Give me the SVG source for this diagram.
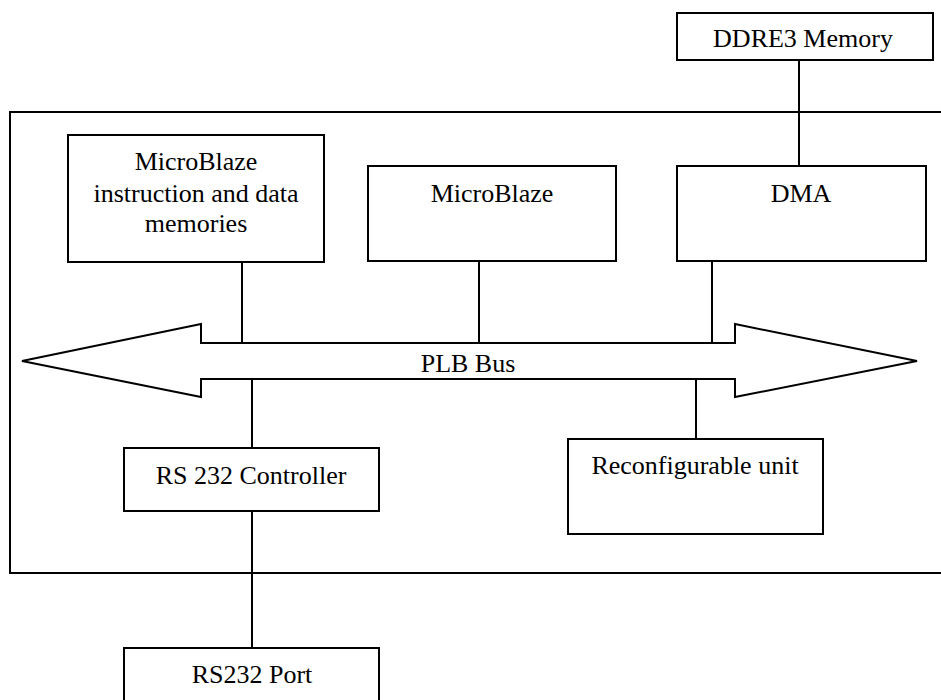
<svg xmlns="http://www.w3.org/2000/svg" width="941" height="700" viewBox="0 0 941 700">
  <style>
    .box { fill: #ffffff; stroke: #000000; stroke-width: 2; }
    .frame { fill: none; stroke: #000000; stroke-width: 2; }
    .wire { stroke: #000000; stroke-width: 2; fill: none; }
    .lbl { font-family: "Liberation Serif", "Times New Roman", serif; font-size: 26px; fill: #000000; text-anchor: middle; }
  </style>
  <rect width="941" height="700" fill="#ffffff"/>
  <g id="system-frame">
    <rect class="frame" x="10" y="112" width="945" height="461"/>
  </g>
  <g id="connectors">
    <line class="wire" x1="799" y1="60" x2="799" y2="166"/>
    <line class="wire" x1="242" y1="262" x2="242" y2="343"/>
    <line class="wire" x1="479" y1="261" x2="479" y2="343"/>
    <line class="wire" x1="712" y1="261" x2="712" y2="343"/>
    <line class="wire" x1="252" y1="379" x2="252" y2="448"/>
    <line class="wire" x1="696" y1="379" x2="696" y2="439"/>
    <line class="wire" x1="252" y1="511" x2="252" y2="648"/>
  </g>
  <g id="plb-bus">
    <polygon class="box" points="22,361 201,324 201,343 735,343 735,324 917,361 735,397 735,379 201,379 201,397"/>
    <text class="lbl" x="468" y="372">PLB Bus</text>
  </g>
  <g id="ddre3-memory">
    <rect class="box" x="677" y="13" width="256" height="47"/>
    <text class="lbl" x="803" y="47">DDRE3 Memory</text>
  </g>
  <g id="mb-memories">
    <rect class="box" x="68" y="135" width="256" height="127"/>
    <text class="lbl" x="196" y="170">MicroBlaze</text>
    <text class="lbl" x="196" y="202">instruction and data</text>
    <text class="lbl" x="196" y="232">memories</text>
  </g>
  <g id="microblaze">
    <rect class="box" x="368" y="166" width="248" height="95"/>
    <text class="lbl" x="492" y="202">MicroBlaze</text>
  </g>
  <g id="dma">
    <rect class="box" x="677" y="166" width="249" height="95"/>
    <text class="lbl" x="801" y="202">DMA</text>
  </g>
  <g id="rs232-controller">
    <rect class="box" x="124" y="448" width="255" height="63"/>
    <text class="lbl" x="251" y="484">RS 232 Controller</text>
  </g>
  <g id="reconfigurable-unit">
    <rect class="box" x="568" y="439" width="255" height="95"/>
    <text class="lbl" x="695" y="474">Reconfigurable unit</text>
  </g>
  <g id="rs232-port">
    <rect class="box" x="124" y="648" width="255" height="60"/>
    <text class="lbl" x="252" y="683">RS232 Port</text>
  </g>
</svg>
